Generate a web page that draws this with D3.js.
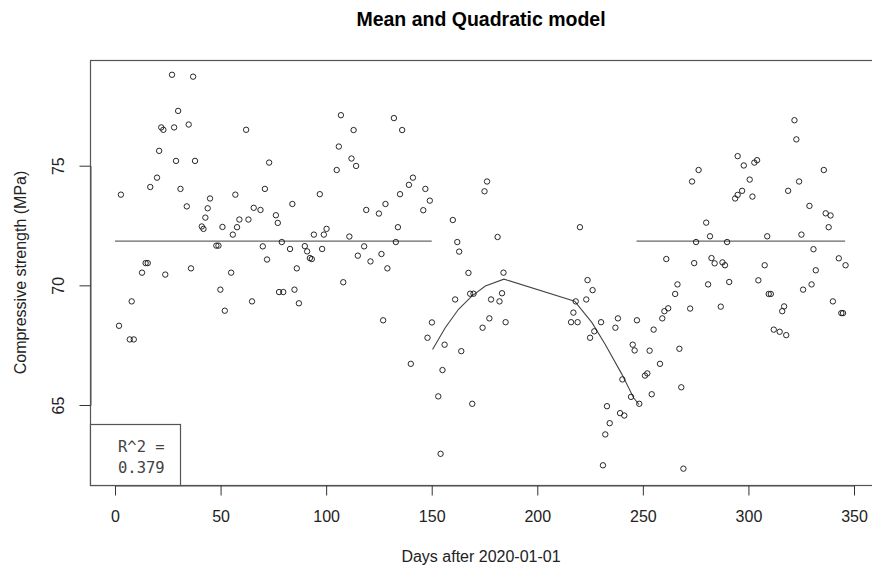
<!DOCTYPE html>
<html><head><meta charset="utf-8">
<script src="https://cdn.jsdelivr.net/npm/d3@7"></script>
<style>body{margin:0;background:#fff}svg{display:block}</style>
</head><body>
<svg id="chart" width="872" height="570"></svg>
<script>
// ---- data ----
const title = "Mean and Quadratic model";
const xLabel = "Days after 2020-01-01";
const yLabel = "Compressive strength (MPa)";
const xTicks = [0, 50, 100, 150, 200, 250, 300, 350];
const yTicks = [65, 70, 75];
const days = [1.9,2.8,7,7.9,8.9,12.8,14.5,15.5,16.7,19.9,20.9,21.9,22.9,23.8,27,28,28.9,29.9,31,34,34.9,36,37,37.9,41.1,41.9,42.8,43.9,45,48,49,49.9,50.9,52,55,55.8,57,57.8,58.9,62.1,63.2,64.9,65.7,68.9,70,71,72,73,76.2,77.1,77.7,79,79.7,
82.9,84,85,86.1,87.1,89.9,91,92.3,93.2,94.2,97,98.1,98.9,100.2,105,106,107,108.1,111,112,113,114.2,115,118,119,121,125,126.2,127,128.1,129,132.1,133,134,135,136,139.2,140.1,141.1,146,147,148,149.1,150.1,153.1,154.2,155.1,156.1,160,161.1,162.1,163,164,167.4,168.2,169.2,169.8,
174.1,175,176.2,177.3,178.1,181.2,182.1,183.3,184,185,216,217.1,218.2,219.1,220.2,223.2,223.8,225,226.2,227,230.2,231.1,232.2,233,234.3,237,238.2,239.2,240.3,241.2,244.4,245.2,246.1,247.2,248.3,251,252.1,253.2,254.2,255.1,258.1,259.2,260.2,261.1,262,
265.3,266.4,267.3,268.2,269.2,272.4,273.3,274.3,275.2,276.4,280,280.9,281.8,282.5,284,286.9,287.7,288.9,289.9,290.9,293.7,294.9,294.9,297,297.8,300.6,301.9,302.8,304.1,304.7,307.7,308.9,309.6,310.6,312,314.8,316,316.9,317.9,318.8,321.8,322.7,324,325.1,325.9,328.9,329.9,330.8,331.9,335.7,336.6,338,338.9,340,342.8,344,344.8,346];
const strength = [68.31,73.79,67.74,69.33,67.74,70.53,70.93,70.93,74.11,74.5,75.62,76.6,76.5,70.45,78.8,76.6,75.2,77.29,74.03,73.3,76.72,70.71,78.72,75.2,72.46,72.36,72.83,73.22,73.63,71.66,71.66,69.82,72.44,68.94,70.53,72.12,73.79,72.43,72.75,76.5,72.75,69.33,73.24,73.15,71.63,74.03,71.08,75.13,72.93,72.61,69.72,71.81,69.72,
71.52,73.4,69.82,70.71,69.25,71.64,71.42,71.14,71.1,72.12,73.81,71.52,72.12,72.36,74.82,75.8,77.11,70.13,72.04,75.3,76.49,74.99,71.24,71.63,73.15,71.0,73.0,71.31,68.54,73.4,70.71,76.99,71.81,72.43,73.81,76.49,74.2,66.72,74.5,73.14,74.03,67.81,73.54,68.45,65.36,62.96,66.46,67.52,72.73,69.41,71.81,71.41,67.25,70.52,69.65,65.05,69.65,
68.23,73.93,74.34,68.62,69.41,72.02,69.33,69.67,70.53,68.46,68.46,68.86,69.33,68.46,72.43,69.41,70.22,67.81,69.8,68.08,68.46,62.48,63.77,64.95,64.24,68.23,68.62,64.66,66.07,64.56,65.34,67.52,67.28,68.54,65.05,66.23,66.32,67.27,65.45,68.15,66.72,68.62,68.92,71.1,69.04,
69.64,70.04,67.35,65.74,62.34,69.03,74.34,70.93,71.81,74.82,72.62,70.04,72.05,71.14,70.92,69.11,70.96,70.84,71.81,70.14,73.63,75.4,73.78,73.95,75.01,74.42,73.71,75.13,75.23,70.21,70.84,72.05,69.64,69.64,68.15,68.06,68.92,69.12,67.92,73.95,76.9,76.1,74.34,72.12,69.82,73.32,70.04,71.51,70.63,74.82,73.01,72.43,72.92,69.33,71.13,68.84,68.84,70.84];
// mean model segments (start day, end day, value)
const meanStart = [0, 247];
const meanEnd = [150, 345.8];
const meanValue = [71.85, 71.85];
// quadratic model fitted curve
const fitDays = [150.4,156.4,162.7,169,175.4,184.2,217.7,225.9,232.2,240.1,245.6,248.2];
const fitValues = [67.32,68.23,69.0,69.55,69.97,70.26,69.34,68.44,67.53,66.28,65.3,65.02];
const r2Lines = ["R^2 =", "0.379"];

// ---- drawing ----
const svg = d3.select("#chart");
const pLeft = 90, pRight = 874.6, pTop = 60, pBottom = 485;
const x = d3.scaleLinear().domain([0, 350]).range([115, 854]);
const y = d3.scaleLinear().domain([65, 75]).range([405, 165.7]);
const axisCol = "#555";
const font = "'Liberation Sans', Arial, sans-serif";

// box
svg.append("rect").attr("x", pLeft + 0.5).attr("y", pTop + 0.5)
  .attr("width", pRight - pLeft).attr("height", pBottom - pTop)
  .attr("fill", "none").attr("stroke", axisCol).attr("stroke-width", 1.2);

// x axis
const xAxis = svg.append("g").attr("transform", `translate(0,${pBottom + 0.5})`)
  .call(d3.axisBottom(x).tickValues(xTicks).tickSize(10).tickSizeOuter(0).tickPadding(15));
xAxis.select(".domain").attr("stroke", axisCol);
xAxis.selectAll(".tick line").attr("stroke", "#333");
xAxis.selectAll(".tick text").attr("font-family", font).attr("font-size", 16).attr("fill", "#222");

// y axis
const yAxis = svg.append("g").attr("transform", `translate(${pLeft + 0.5},0)`)
  .call(d3.axisLeft(y).tickValues(yTicks).tickSize(11).tickSizeOuter(0).tickPadding(0));
yAxis.select(".domain").attr("stroke", axisCol);
yAxis.selectAll(".tick line").attr("stroke", "#333");
yAxis.selectAll(".tick text").remove();
yAxis.selectAll(".tick").append("text")
  .attr("transform", "translate(-32,0) rotate(-90)")
  .attr("text-anchor", "middle").attr("dy", "0.35em")
  .attr("font-family", font).attr("font-size", 16).attr("fill", "#222")
  .text(d => d);

// titles
svg.append("text").attr("x", 481).attr("y", 26).attr("text-anchor", "middle")
  .attr("font-family", font).attr("font-weight", "bold").attr("font-size", 19.5).attr("fill", "#000")
  .text(title);
svg.append("text").attr("x", 481).attr("y", 562).attr("text-anchor", "middle")
  .attr("font-family", font).attr("font-size", 16).attr("fill", "#222").text(xLabel);
svg.append("text").attr("transform", `translate(26,${(pTop + pBottom) / 2}) rotate(-90)`)
  .attr("text-anchor", "middle")
  .attr("font-family", font).attr("font-size", 16).attr("fill", "#222").text(yLabel);

// mean lines
meanStart.forEach((s, i) => {
  svg.append("line")
    .attr("x1", x(s)).attr("x2", x(meanEnd[i]))
    .attr("y1", y(meanValue[i])).attr("y2", y(meanValue[i]))
    .attr("stroke", "#666").attr("stroke-width", 1.3);
});

// quadratic curve
const fit = fitDays.map((d, i) => [d, fitValues[i]]);
svg.append("path").datum(fit)
  .attr("d", d3.line().x(d => x(d[0])).y(d => y(d[1])))
  .attr("fill", "none").attr("stroke", "#444").attr("stroke-width", 1.1);

// points
const pts = days.map((d, i) => [d, strength[i]]);
svg.append("g").selectAll("circle").data(pts).join("circle")
  .attr("cx", d => x(d[0])).attr("cy", d => y(d[1])).attr("r", 2.7)
  .attr("fill", "none").attr("stroke", "#111").attr("stroke-width", 0.9);

// R^2 box
svg.append("rect").attr("x", pLeft + 0.5).attr("y", 424.5).attr("width", 90).attr("height", pBottom - 424)
  .attr("fill", "#fff").attr("stroke", axisCol).attr("stroke-width", 1.2);
svg.append("g").selectAll("text").data(r2Lines).join("text")
  .attr("x", 118).attr("y", (d, i) => 452 + i * 21)
  .attr("font-family", "'DejaVu Sans Mono', monospace").attr("font-size", 15.5).attr("fill", "#444")
  .text(d => d);
</script>
</body></html>
